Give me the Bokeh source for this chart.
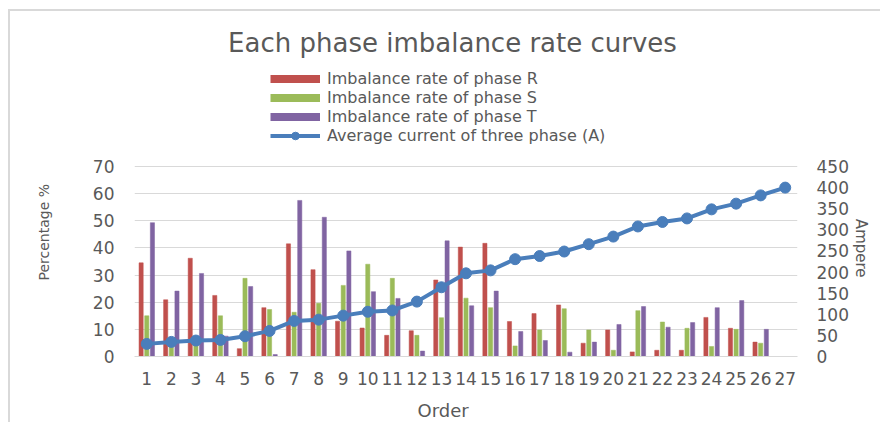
from bokeh.plotting import figure
from bokeh.models import (ColumnDataSource, FactorRange, Range1d, LinearAxis,
                          FixedTicker, Legend, LegendItem, Label)
from bokeh.transform import dodge
from bokeh.embed import file_html
from bokeh.resources import INLINE
import math

# ---------------- data ----------------
orders = [str(i) for i in range(1, 28)]
rate_R = [34.5, 20.9, 36.2, 22.5, 2.9, 18.0, 41.5, 32.0, 13.0, 10.5, 7.8, 9.5, 28.2,
          40.3, 41.7, 12.9, 15.8, 19.0, 4.9, 9.8, 1.7, 2.3, 2.3, 14.4, 10.4, 5.3]
rate_S = [15.0, 4.5, 7.0, 15.0, 28.8, 17.3, 16.3, 19.6, 26.2, 34.0, 28.8, 7.8, 14.3,
          21.5, 18.0, 3.9, 9.8, 17.6, 9.8, 2.3, 16.9, 12.7, 10.4, 3.7, 10.0, 4.9]
rate_T = [49.3, 24.1, 30.6, 7.5, 25.8, 0.7, 57.5, 51.3, 38.9, 23.9, 21.4, 2.0, 42.6,
          18.7, 24.1, 9.2, 5.9, 1.6, 5.3, 11.8, 18.4, 10.8, 12.5, 18.0, 20.6, 10.0]
avg_current = [29.9, 34.6, 37.8, 39.3, 48.0, 60.6, 84.2, 87.3, 96.8, 106.0, 109.0, 130.0,
               164.0, 197.0, 204.0, 230.5, 238.0, 248.6, 266.0, 284.0, 308.0, 318.6,
               327.0, 348.5, 362.0, 381.6, 400.0]
left_ticks = [0, 10, 20, 30, 40, 50, 60, 70]
right_ticks = [0, 50, 100, 150, 200, 250, 300, 350, 400, 450]

title_text = "Each phase imbalance rate curves"
series_names = ["Imbalance rate of phase R", "Imbalance rate of phase S",
                "Imbalance rate of phase T"]
line_name = "Average current of three phase (A)"
left_title = "Percentage %"
right_title = "Ampere"
x_title = "Order"

RED, GREEN, PURPLE, BLUE = "#c0504d", "#9bbb59", "#8064a2", "#4a7ebb"
GRAY = "#595959"
FONT = "DejaVu Sans"
NB = "\u00a0"

bar_src = ColumnDataSource(dict(x=orders[:len(rate_R)], R=rate_R, S=rate_S, T=rate_T))
line_src = ColumnDataSource(dict(x=orders, A=avg_current))

# frame: top at page y 14, bottom (0) at page y 356, 70 at page y 166
frame_top, frame_bottom, y70 = 14, 356, 166
scale = (frame_bottom - frame_top) / (frame_bottom - y70)
left_max = left_ticks[-1] * scale
right_max = right_ticks[-1] * scale

p = figure(width=872, height=413, output_backend="svg", toolbar_location=None,
           x_range=FactorRange(factors=orders, range_padding=0),
           y_range=Range1d(0, left_max),
           min_border_left=124, min_border_right=85, min_border_top=3,
           min_border_bottom=68)
p.title = None
p.extra_y_ranges = {"amp": Range1d(0, right_max)}
p.outline_line_color = None
p.background_fill_color = "white"
p.border_fill_color = "white"
p.styles = {"margin-left": "8px", "margin-top": "9px",
            "border-top": "2px solid #d9d9d9", "border-left": "2px solid #d9d9d9"}

# bars
bw = 0.17
p.vbar(x=dodge("x", -0.23, range=p.x_range), top="R", width=bw, source=bar_src,
       fill_color=RED, line_color=RED, line_width=0.5)
p.vbar(x=dodge("x", 0.0, range=p.x_range), top="S", width=bw, source=bar_src,
       fill_color=GREEN, line_color=GREEN, line_width=0.5)
p.vbar(x=dodge("x", 0.23, range=p.x_range), top="T", width=bw, source=bar_src,
       fill_color=PURPLE, line_color=PURPLE, line_width=0.5)

# line on right axis
ln = p.line(x="x", y="A", source=line_src, y_range_name="amp", line_color=BLUE, line_width=4)
sc = p.scatter(x="x", y="A", source=line_src, y_range_name="amp", size=11,
               fill_color=BLUE, line_color=BLUE)

# axes styling
def style_axis(ax, standoff):
    ax.major_tick_line_color = None
    ax.minor_tick_line_color = None
    ax.major_tick_out = 0
    ax.major_tick_in = 0
    ax.minor_tick_out = 0
    ax.minor_tick_in = 0
    ax.major_label_standoff = standoff
    ax.major_label_text_font = FONT
    ax.major_label_text_font_size = "17px"
    ax.major_label_text_color = GRAY
    ax.axis_label_text_font = FONT
    ax.axis_label_text_font_style = "normal"
    ax.axis_label_text_color = GRAY

xa = p.xaxis[0]
style_axis(xa, 15)
xa.axis_line_color = "#d9d9d9"
xa.axis_label = x_title + NB * 8
xa.axis_label_text_font_size = "18px"
xa.axis_label_standoff = 12

ya = p.yaxis[0]
style_axis(ya, 20)
ya.ticker = FixedTicker(ticks=left_ticks)
ya.axis_line_color = None
ya.axis_label = left_title + NB * 21
ya.axis_label_text_font_size = "14px"
ya.axis_label_standoff = 38

ra = LinearAxis(y_range_name="amp", ticker=FixedTicker(ticks=right_ticks))
style_axis(ra, 19)
ra.axis_line_color = None
ra.axis_label = NB * 7 + right_title
ra.axis_label_text_font_size = "15px"
ra.axis_label_standoff = 9
ra.axis_label_orientation = -math.pi / 2
p.add_layout(ra, "right")

p.xgrid.grid_line_color = None
p.ygrid.ticker = FixedTicker(ticks=left_ticks)
p.ygrid.grid_line_color = "#d9d9d9"
p.ygrid.grid_line_width = 1

# legend proxies (thin colour patches, placed below the visible range)
proxy_x = orders[:1]
proxy_y = [-left_max]
pr = p.line(x=proxy_x, y=proxy_y, line_color=RED, line_width=8)
pg = p.line(x=proxy_x, y=proxy_y, line_color=GREEN, line_width=8)
pt = p.line(x=proxy_x, y=proxy_y, line_color=PURPLE, line_width=8)
legend = Legend(items=[LegendItem(label=series_names[0], renderers=[pr]),
                       LegendItem(label=series_names[1], renderers=[pg]),
                       LegendItem(label=series_names[2], renderers=[pt]),
                       LegendItem(label=line_name, renderers=[ln, sc])],
                location=(136, 211), orientation="vertical")
legend.padding = 0
legend.margin = 0
legend.spacing = 0
legend.border_line_color = None
legend.background_fill_alpha = 0
legend.glyph_width = 50
legend.glyph_height = 19
legend.label_height = 19
legend.label_standoff = 7
legend.label_text_font = FONT
legend.label_text_font_size = "16px"
legend.label_text_color = GRAY
p.add_layout(legend, "center")

# title inside the (extended) frame
p.add_layout(Label(x=318, y=314, x_units="screen", y_units="screen",
                   text=title_text, text_align="center",
                   text_baseline="middle", text_font=FONT, text_font_size="26px",
                   text_color=GRAY))

open("out.html", "w").write(file_html(p, INLINE))
